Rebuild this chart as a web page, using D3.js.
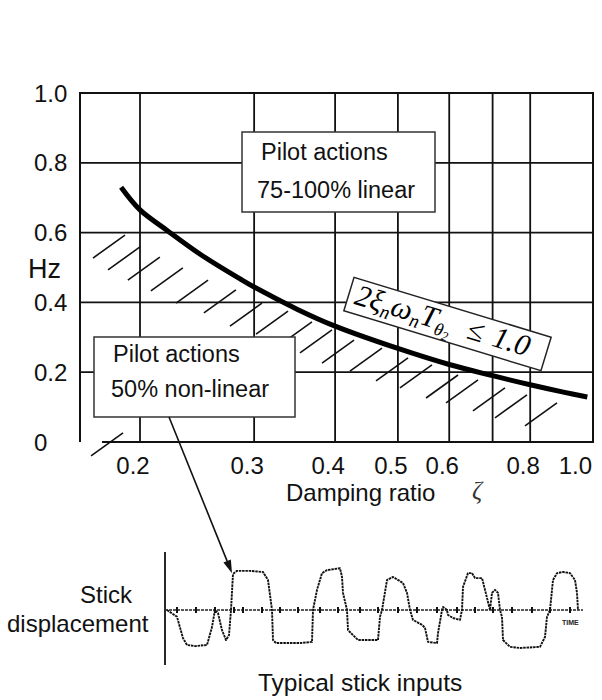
<!DOCTYPE html>
<html><head><meta charset="utf-8">
<script src="https://cdn.jsdelivr.net/npm/d3@7"></script>
<style>body{margin:0;background:#fff}</style>
</head><body><svg id="c" width="602" height="700"></svg>
<script>
// ---------- data ----------
const xTicks = [0.2, 0.3, 0.4, 0.5, 0.6, 0.7, 0.8, 1.0];
const xTickLabels = ["0.2", "0.3", "0.4", "0.5", "0.6", "", "0.8", "1.0"];
const yTicks = [0, 0.2, 0.4, 0.6, 0.8, 1.0];
const yTickLabels = ["0", "0.2", "0.4", "0.6", "0.8", "1.0"];
const xLabel = "Damping ratio";
const yLabel = "Hz";

// boundary curve  2 zeta wn T = 1.0
const curveZeta = [0.187, 0.2, 0.22, 0.25, 0.285, 0.3, 0.35, 0.4, 0.5, 0.6, 0.7, 0.8, 0.9, 0.98];
const curveHz   = [0.73, 0.665, 0.607, 0.533, 0.468, 0.444, 0.38, 0.332, 0.268, 0.222, 0.19, 0.164, 0.143, 0.129];

// hatch strokes (upper end of each stroke)
const hatchZeta = [0.1896, 0.2, 0.2146, 0.2329, 0.2547, 0.2812, 0.3085, 0.3384, 0.3684, 0.3956, 0.4278, 0.4725, 0.5183, 0.5643, 0.6191, 0.6647, 0.7314, 0.7909, 0.8799, 0.1883];
const hatchHz   = [0.593, 0.559, 0.530, 0.499, 0.464, 0.436, 0.398, 0.375, 0.344, 0.321, 0.292, 0.269, 0.241, 0.221, 0.192, 0.178, 0.155, 0.135, 0.112, 0.026];

// typical stick input trace
const stickTime = [2,12,18,22,30,42,47,50,53,57,61,64,66,68,72,85,98,103,107,108,111,135,147,148,152,157,162,175,177,178,182,183,188,193,213,215,217,222,228,238,242,245,248,257,260,263,272,273,277,278,282,283,288,295,297,298,303,307,310,317,320,325,327,330,333,335,337,338,345,355,375,380,382,385,388,392,398,405,410,412,413];
const stickDisp = [0,-0.18,-0.74,-0.92,-0.95,-0.92,-0.45,0,-0.08,-0.53,-0.79,-0.66,0,0.95,1.03,1.03,1.0,0.79,0,-0.79,-0.87,-0.87,-0.84,0,0.53,0.97,1.05,1.1,0.87,0.45,0,-0.53,-0.66,-0.79,-0.79,-0.18,0,0.79,0.87,0.71,0.45,0,-0.26,-0.39,-0.47,-0.84,-0.87,-0.61,0,0.08,0,-0.13,-0.21,-0.26,0,0.61,0.97,0.97,0.84,0.84,0.53,0,0.45,0.53,0.45,0,-0.18,-0.79,-0.97,-1.0,-0.97,-0.71,-0.18,0,0.79,0.97,1.0,0.97,0.79,0.45,0];
const timeMarks = [12,31,50,69,78,97,115,133,155,173,195,213,233,252,272,292,310,328,347,367,385,405];

const boxTop = ["Pilot actions", "75-100% linear"];
const boxBottom = ["Pilot actions", "50% non-linear"];

// ---------- drawing ----------
const svg = d3.select("#c");
const SANS = "'Liberation Sans', Arial, Helvetica, sans-serif";
const SERIF = "'Liberation Serif', 'Times New Roman', serif";
const ink = "#111";

const x = d3.scaleLog().domain([0.1616, 1]).range([80, 593]);
const y = d3.scaleLinear().domain([0, 1]).range([442, 93]);

const g = svg.append("g");

// grid
g.selectAll(".vg").data(xTicks.slice(0, -1)).enter().append("line")
  .attr("x1", d => x(d)).attr("x2", d => x(d)).attr("y1", y(0)).attr("y2", y(1))
  .attr("stroke", ink).attr("stroke-width", 1.8);
g.selectAll(".hg").data(yTicks.filter(v => v > 0 && v < 1)).enter().append("line")
  .attr("x1", x.range()[0]).attr("x2", x.range()[1]).attr("y1", d => y(d)).attr("y2", d => y(d))
  .attr("stroke", ink).attr("stroke-width", 1.8);

// frame
g.append("path")
  .attr("d", `M${x.range()[0]},${y(0)}V${y(1)}H${x.range()[1]}V${y(0)}H${x.range()[0] + 22}`)
  .attr("fill", "none").attr("stroke", ink).attr("stroke-width", 2);

// hatching
g.selectAll(".h").data(hatchZeta).enter().append("line")
  .attr("x1", (d, i) => x(d) - 32).attr("y1", (d, i) => y(hatchHz[i]) + 23)
  .attr("x2", (d, i) => x(d)).attr("y2", (d, i) => y(hatchHz[i]))
  .attr("stroke", ink).attr("stroke-width", 1.6);

// curve
const pts = curveZeta.map((z, i) => [z, curveHz[i]]);
g.append("path").datum(pts)
  .attr("d", d3.line().x(d => x(d[0])).y(d => y(d[1])).curve(d3.curveCatmullRom.alpha(0.5)))
  .attr("fill", "none").attr("stroke", "#000").attr("stroke-width", 5);

// tick labels
g.selectAll(".xl").data(xTicks).enter().append("text")
  .attr("x", (d, i) => i === xTicks.length - 1 ? x(d) - 1 : x(d) - 7)
  .attr("y", 474)
  .attr("text-anchor", (d, i) => i === xTicks.length - 1 ? "end" : "middle")
  .attr("font-family", SANS).attr("font-size", 24).attr("fill", ink)
  .text((d, i) => xTickLabels[i]);
g.selectAll(".yl").data(yTicks).enter().append("text")
  .attr("x", 34).attr("y", d => y(d) + 8.5)
  .attr("font-family", SANS).attr("font-size", 24).attr("fill", ink)
  .text((d, i) => yTickLabels[i]);

g.append("text").attr("x", 28).attr("y", 278).attr("font-family", SANS).attr("font-size", 27)
  .attr("fill", ink).text(yLabel);
g.append("text").attr("x", 286).attr("y", 501).attr("font-family", SANS).attr("font-size", 24)
  .attr("fill", ink).text(xLabel);
g.append("text").attr("x", 472).attr("y", 499).attr("font-family", SERIF).attr("font-style", "italic")
  .attr("font-size", 25).attr("fill", "#333").text("ζ");

// annotation boxes
function box(x0, y0, w, h, lines, tx, ty) {
  g.append("rect").attr("x", x0).attr("y", y0).attr("width", w).attr("height", h)
    .attr("fill", "#fff").attr("stroke", "#333").attr("stroke-width", 1.5);
  lines.forEach((t, i) => g.append("text").attr("x", tx[i]).attr("y", ty[i])
    .attr("font-family", SANS).attr("font-size", 23.5).attr("fill", ink).text(t));
}
box(242, 132, 193, 80, boxTop, [261, 257], [160, 198]);
box(94, 337, 201, 80, boxBottom, [113, 111], [362, 397]);

// formula box
const fg = g.append("g").attr("transform", "translate(447.5,324) rotate(16.9)");
fg.append("rect").attr("x", -103).attr("y", -17.5).attr("width", 206).attr("height", 35)
  .attr("fill", "#fff").attr("stroke", "#222").attr("stroke-width", 1.5);
const ft = fg.append("text").attr("x", -96).attr("y", 8)
  .attr("font-family", SERIF).attr("font-style", "italic").attr("font-size", 30).attr("fill", "#000");
ft.append("tspan").text("2ξ");
ft.append("tspan").attr("font-size", 19).attr("dy", 5).text("n");
ft.append("tspan").attr("dy", -5).text("ω");
ft.append("tspan").attr("font-size", 19).attr("dy", 5).text("n");
ft.append("tspan").attr("dy", -5).text("T");
ft.append("tspan").attr("font-size", 18).attr("dy", 6).text("θ");
ft.append("tspan").attr("font-size", 13).attr("dy", 3).text("2");
ft.append("tspan").attr("dy", -9).attr("dx", 17).text("≤");
ft.append("tspan").attr("dx", 10).text("1.0");

// stick panel
const t = d3.scaleLinear().domain([0, 420]).range([165, 585]);
const s = d3.scaleLinear().domain([-1, 1]).range([648, 572]);

g.append("line").attr("x1", t(0)).attr("x2", t(0)).attr("y1", 552).attr("y2", 665)
  .attr("stroke", ink).attr("stroke-width", 1.8);
g.append("line").attr("x1", t(0)).attr("x2", t(418)).attr("y1", s(0)).attr("y2", s(0))
  .attr("stroke", "#222").attr("stroke-width", 1.5).attr("stroke-dasharray", "3,1");
g.selectAll(".tm").data(timeMarks).enter().append("line")
  .attr("x1", d => t(d)).attr("x2", d => t(d)).attr("y1", s(0) - 3).attr("y2", s(0) + 3)
  .attr("stroke", "#111").attr("stroke-width", 2);
g.append("text").attr("x", t(397)).attr("y", s(0) + 15).attr("font-family", SANS)
  .attr("font-size", 7).attr("font-weight", "bold").attr("fill", "#222").text("TIME");

const sp = stickTime.map((v, i) => [v, stickDisp[i]]);
g.append("path").datum(sp)
  .attr("d", d3.line().x(d => t(d[0])).y(d => s(d[1])))
  .attr("fill", "none").attr("stroke", "#111").attr("stroke-width", 1.9)
  .attr("stroke-dasharray", "2.5,0.8").attr("stroke-linejoin", "round");

// arrow from lower box to trace
const tip = [t(stickTime[12] + 1), s(0.97)];
const start = [169, 417];
const ang = Math.atan2(tip[1] - start[1], tip[0] - start[0]);
const aL = 13, aW = 4;
const base = [tip[0] - aL * Math.cos(ang), tip[1] - aL * Math.sin(ang)];
g.append("line").attr("x1", start[0]).attr("y1", start[1]).attr("x2", base[0]).attr("y2", base[1])
  .attr("stroke", ink).attr("stroke-width", 1.6);
g.append("path").attr("d", `M${tip[0]},${tip[1]}L${base[0] + aW * Math.sin(ang)},${base[1] - aW * Math.cos(ang)}L${base[0] - aW * Math.sin(ang)},${base[1] + aW * Math.cos(ang)}Z`)
  .attr("fill", ink);

// labels
g.append("text").attr("x", 80).attr("y", 603).attr("font-family", SANS).attr("font-size", 24)
  .attr("fill", ink).text("Stick");
g.append("text").attr("x", 7).attr("y", 632).attr("font-family", SANS).attr("font-size", 24)
  .attr("fill", ink).text("displacement");
g.append("text").attr("x", 258).attr("y", 691).attr("font-family", SANS).attr("font-size", 24.5)
  .attr("fill", ink).text("Typical stick inputs");
</script></body></html>
